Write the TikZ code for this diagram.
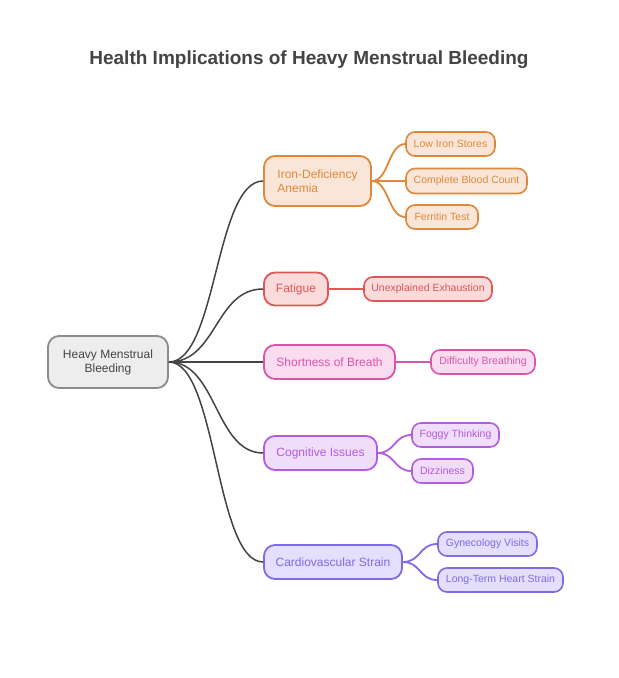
\documentclass[tikz,border=0pt]{standalone}
\usepackage{fontspec}
\setmainfont{Liberation Sans}
\definecolor{orS}{HTML}{E0883A}\definecolor{orF}{HTML}{FAE6D8}
\definecolor{rdS}{HTML}{E05555}\definecolor{rdF}{HTML}{FADBDB}
\definecolor{pkS}{HTML}{DA55AA}\definecolor{pkF}{HTML}{F9DCEF}
\definecolor{puS}{HTML}{B55BE0}\definecolor{puF}{HTML}{F0DDF9}
\definecolor{viS}{HTML}{7E6BE6}\definecolor{viF}{HTML}{E4DFFC}
\definecolor{grS}{HTML}{8C8C8C}\definecolor{grF}{HTML}{EDEDED}
\definecolor{ink}{HTML}{444444}
\tikzset{
  box/.style={draw, line width=1.8pt, rounded corners=11pt, inner sep=0pt, font=\fontsize{12}{14}\selectfont},
  leaf/.style={draw, line width=1.6pt, rounded corners=9pt, inner sep=0pt, font=\fontsize{10.5}{12}\selectfont},
  sz/.style 2 args={minimum width=#1, minimum height=#2},
  org/.style={draw=orS, fill=orF, text=orS},
  red/.style={draw=rdS, fill=rdF, text=rdS},
  pnk/.style={draw=pkS, fill=pkF, text=pkS},
  pur/.style={draw=puS, fill=puF, text=puS},
  vio/.style={draw=viS, fill=viF, text=viS},
  main/.style={draw=ink, line width=1.5pt},
  sub/.style={line width=1.8pt},
}
\begin{document}
\begin{tikzpicture}[x=1pt,y=-1pt]
\useasboundingbox[fill=white] (0,0) rectangle (619,678);
\node[font=\bfseries\fontsize{19}{22}\selectfont, text=ink] (title) at (309,60) {Health Implications of Heavy Menstrual Bleeding};

\node[box, sz={120}{52}, draw=grS, fill=grF, text=ink, align=center] (root) at (108,362) {Heavy Menstrual\\Bleeding};

\node[box, org, sz={107}{50}, align=left] (iron) at (317.5,181) {Iron-Deficiency\\Anemia};
\node[leaf, org, sz={89}{24}] (low) at (450.5,144) {Low Iron Stores};
\node[leaf, org, sz={121}{25}] (cbc) at (466.5,181) {Complete Blood Count};
\node[leaf, org, sz={72}{24}] (fer) at (442,217) {Ferritin Test};

\node[box, red, sz={64}{33}] (fat) at (296,289) {Fatigue};
\node[leaf, red, sz={128}{24}] (une) at (428,289) {Unexplained Exhaustion};

\node[box, pnk, sz={131}{34}] (sob) at (329.5,362) {Shortness of Breath};
\node[leaf, pnk, sz={104}{24}] (dif) at (483,362) {Difficulty Breathing};

\node[box, pur, sz={113}{34}] (cog) at (320.5,453) {Cognitive Issues};
\node[leaf, pur, sz={87}{24}] (fog) at (455.5,435) {Foggy Thinking};
\node[leaf, pur, sz={61}{24}] (diz) at (442.5,471) {Dizziness};

\node[box, vio, sz={138}{34}] (car) at (333,562) {Cardiovascular Strain};
\node[leaf, vio, sz={99}{24}] (gyn) at (487.5,544) {Gynecology Visits};
\node[leaf, vio, sz={125}{24}] (lth) at (500.5,580) {Long-Term Heart Strain};

\foreach \c in {iron,fat,sob,cog,car}
  \draw[main] (root.east) .. controls +(48,0) and +(-48,0) .. (\c.west);

\draw[sub, orS] (iron.east) .. controls +(17,0) and +(-17,0) .. (low.west);
\draw[sub, orS] (iron.east) -- (cbc.west);
\draw[sub, orS] (iron.east) .. controls +(17,0) and +(-17,0) .. (fer.west);
\draw[sub, rdS] (fat.east) -- (une.west);
\draw[sub, pkS] (sob.east) -- (dif.west);
\draw[sub, puS] (cog.east) .. controls +(17,0) and +(-17,0) .. (fog.west);
\draw[sub, puS] (cog.east) .. controls +(17,0) and +(-17,0) .. (diz.west);
\draw[sub, viS] (car.east) .. controls +(18,0) and +(-18,0) .. (gyn.west);
\draw[sub, viS] (car.east) .. controls +(18,0) and +(-18,0) .. (lth.west);
\end{tikzpicture}
\end{document}
